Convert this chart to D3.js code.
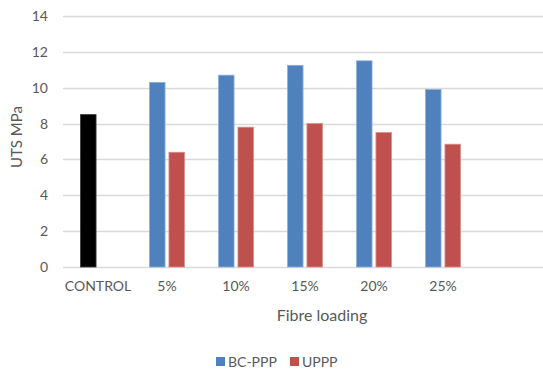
<!DOCTYPE html>
<html>
<head>
<meta charset="utf-8">
<script src="https://cdn.jsdelivr.net/npm/d3@7"></script>
<style>
  html, body { margin: 0; padding: 0; background: #fff; }
  svg { display: block; font-family: Lato, "Open Sans", sans-serif; }
</style>
</head>
<body>
<svg id="chart" width="543" height="371"></svg>
<script>
// Ultimate tensile strength by fibre loading
const categories = ["CONTROL", "5%", "10%", "15%", "20%", "25%"];
const seriesNames = ["BC-PPP", "UPPP"];
const bcPPP = [8.5, 10.3, 10.7, 11.25, 11.5, 9.9];
const uPPP = [null, 6.4, 7.8, 8.0, 7.5, 6.85];
const yTicks = [0, 2, 4, 6, 8, 10, 12, 14];
const seriesColors = { "BC-PPP": "#4F81BD", "UPPP": "#C0504D" };
const seriesBorders = { "BC-PPP": "#8FB0DB", "UPPP": "#DA8E8C" };
const controlColor = "#000000";

const svg = d3.select("#chart");
const plot = { left: 63, right: 543, top: 16, bottom: 267 };

const x = d3.scaleBand()
  .domain(categories)
  .range([plot.left + 0.5, plot.left + 0.5 + categories.length * 69])
  .paddingInner(0).paddingOuter(0);

const xInner = d3.scaleBand()
  .domain(seriesNames)
  .range([17, 52])
  .paddingInner(0.2);

const y = d3.scaleLinear().domain([0, 14]).range([plot.bottom, plot.top]);

// horizontal gridlines
svg.append("g")
  .selectAll("line")
  .data(yTicks)
  .join("line")
  .attr("x1", plot.left)
  .attr("x2", plot.right)
  .attr("y1", d => Math.round(y(d)) + 0.5)
  .attr("y2", d => Math.round(y(d)) + 0.5)
  .attr("stroke", "#D9D9D9")
  .attr("stroke-width", 1.3);

// y axis labels
const yAxis = d3.axisLeft(y).tickValues(yTicks).tickSize(0).tickPadding(0);
const yg = svg.append("g")
  .attr("transform", `translate(${plot.left - 15},0)`)
  .call(yAxis);
yg.select(".domain").remove();
yg.selectAll("text")
  .attr("fill", "#595959")
  .attr("font-size", 14)
  .attr("font-family", "Lato, sans-serif");

// x axis labels
const xAxis = d3.axisBottom(x).tickSize(0).tickPadding(0);
const xg = svg.append("g")
  .attr("transform", `translate(0,${plot.bottom + 14})`)
  .call(xAxis);
xg.select(".domain").remove();
xg.selectAll("text")
  .attr("fill", "#595959")
  .attr("font-size", 14)
  .attr("font-family", "Lato, sans-serif");

// bars
const rows = categories.map((c, i) => ({ cat: c, values: [
  { key: "BC-PPP", value: bcPPP[i], control: i === 0 },
  { key: "UPPP", value: uPPP[i], control: false }
]}));

const groups = svg.append("g")
  .selectAll("g")
  .data(rows)
  .join("g")
  .attr("transform", d => `translate(${x(d.cat)},0)`);

groups.selectAll("rect")
  .data(d => d.values.filter(v => v.value != null))
  .join("rect")
  .attr("x", d => xInner(d.key))
  .attr("width", xInner.bandwidth())
  .attr("y", d => y(d.value))
  .attr("height", d => y(0) - y(d.value))
  .attr("fill", d => d.control ? controlColor : seriesColors[d.key])
  .attr("stroke", d => d.control ? "#3a3a3a" : seriesBorders[d.key])
  .attr("stroke-width", 0.8);

// y axis title
svg.append("text")
  .attr("transform", "translate(22,137) rotate(-90)")
  .attr("text-anchor", "middle")
  .attr("fill", "#595959")
  .attr("font-size", 15)
  .attr("font-family", "Lato, sans-serif")
  .text("UTS MPa");

// x axis title
svg.append("text")
  .attr("x", 322)
  .attr("y", 321)
  .attr("text-anchor", "middle")
  .attr("fill", "#595959")
  .attr("font-size", 16)
  .attr("font-family", "Lato, sans-serif")
  .text("Fibre loading");

// legend
const legendX = [216, 290];
const legend = svg.append("g")
  .selectAll("g")
  .data(seriesNames)
  .join("g")
  .attr("transform", (d, i) => `translate(${legendX[i]},357)`);
legend.append("rect")
  .attr("width", 9).attr("height", 9)
  .attr("fill", d => seriesColors[d]);
legend.append("text")
  .attr("x", 12).attr("y", 9.5)
  .attr("fill", "#595959")
  .attr("font-size", 14)
  .attr("font-family", "Lato, sans-serif")
  .text(d => d);
</script>
</body>
</html>
